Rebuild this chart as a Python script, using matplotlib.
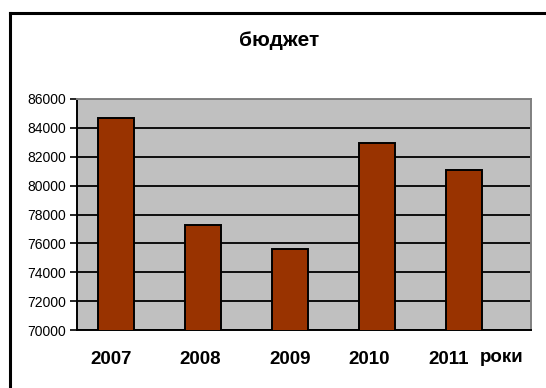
import matplotlib
matplotlib.use("Agg")
import matplotlib.pyplot as plt
from matplotlib.lines import Line2D
from matplotlib.transforms import ScaledTranslation

years = ["2007", "2008", "2009", "2010", "2011"]
budget = [84700, 77300, 75600, 82950, 81050]
y_ticks = [70000, 72000, 74000, 76000, 78000, 80000, 82000, 84000, 86000]
title = "бюджет"
x_unit = "роки"

plt.rcParams["font.family"] = ["Liberation Sans", "DejaVu Sans"]

W, H = 546, 388
fig = plt.figure(figsize=(W / 100, H / 100), dpi=100)
fig.patch.set_facecolor("white")

# outer chart frame (top and left edges)
fig.add_artist(Line2D([10 / W, 1.0], [1 - 13 / H, 1 - 13 / H],
                      transform=fig.transFigure, color="black", lw=2.2))
fig.add_artist(Line2D([10 / W, 10 / W], [0.0, 1 - 13 / H],
                      transform=fig.transFigure, color="black", lw=2.2))

ax = fig.add_axes([77 / W, 1 - 330 / H, (531 - 77) / W, (330 - 99) / H])
ax.set_facecolor("#C0C0C0")

x = list(range(len(years)))
ax.bar(x, budget, width=0.41, color="#993300", edgecolor="black",
       linewidth=1.4, zorder=3)

ax.set_ylim(y_ticks[0], y_ticks[-1])
ax.set_xlim(-0.45, 4.77)
ax.set_yticks(y_ticks)
ax.set_yticklabels([str(v) for v in y_ticks], fontsize=10)
ax.yaxis.grid(True, color="black", linewidth=1.3, zorder=1)
ax.set_axisbelow(True)

ax.set_xticks(x)
ax.set_xticklabels(years, fontsize=13.5, fontweight="bold")
ax.tick_params(axis="x", length=0, pad=15)
ax.tick_params(axis="y", length=5, width=1.2, pad=3, direction="out")

# nudge year labels to the left (pixels)
shifts = [-5, -3, 0, -8, -15]
for lab, dx in zip(ax.get_xticklabels(), shifts):
    lab.set_transform(lab.get_transform() +
                      ScaledTranslation(dx / 100, 0, fig.dpi_scale_trans))

for side in ("left", "bottom"):
    ax.spines[side].set_color("black")
    ax.spines[side].set_linewidth(1.4)
for side in ("top", "right"):
    ax.spines[side].set_color("#808080")
    ax.spines[side].set_linewidth(1.4)

fig.text(502 / W, 1 - 358 / H, x_unit, fontsize=13.5, fontweight="bold",
         ha="center", va="center")
fig.text(279 / W, 1 - 41 / H, title, fontsize=15, fontweight="bold",
         ha="center", va="center")

fig.savefig("out.png", dpi=100)
